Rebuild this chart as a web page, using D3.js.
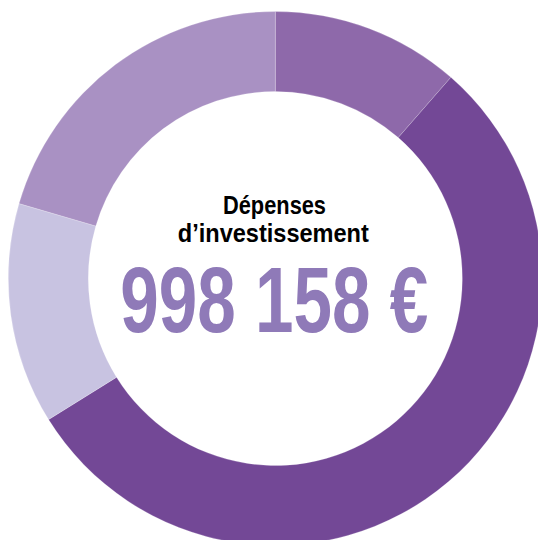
<!DOCTYPE html>
<html>
<head>
<meta charset="utf-8">
<script src="https://cdn.jsdelivr.net/npm/d3@7"></script>
<style>
  html, body { margin: 0; padding: 0; background: #fff; }
  svg { display: block; }
</style>
</head>
<body>
<div class="donut"></div>
<script>
// slices read clockwise from 12 o'clock
var categories = ["Poste 1", "Poste 2", "Poste 3", "Poste 4"];
var values = [114000, 546200, 133600, 204358];
var colors = ["#8e69aa", "#734896", "#c8c3e1", "#a991c3"];
var titleLines = ["Dépenses", "d\u2019investissement"];
var totalLabel = "998 158 €";

var width = 538, height = 540;
var cx = 275.3, cy = 278.5,
    outerRadius = 267,
    innerRadius = 187;

var svg = d3.select(".donut")
  .append("svg")
  .attr("width", width)
  .attr("height", height);

var g = svg.append("g")
  .attr("transform", "translate(" + cx + "," + cy + ")");

var data = categories.map(function(c, i){ return {label: c, value: values[i]}; });

var color = d3.scaleOrdinal().domain(categories).range(colors);

var pie = d3.pie()
  .value(function(d){ return d.value; })
  .sort(null);

var arc = d3.arc()
  .innerRadius(innerRadius)
  .outerRadius(outerRadius);

g.selectAll("path.slice")
  .data(pie(data))
  .enter()
  .append("path")
  .attr("class", "slice")
  .attr("fill", function(d){ return color(d.data.label); })
  .attr("stroke", "#ffffff")
  .attr("stroke-opacity", 0.35)
  .attr("stroke-width", 0.6)
  .attr("d", arc);

// centre text
var font = "'Liberation Sans Narrow', 'Arial Narrow', sans-serif";

g.append("text")
  .attr("x", -0.8)
  .attr("y", 214.3 - cy)
  .attr("text-anchor", "middle")
  .attr("font-family", font)
  .attr("font-weight", "bold")
  .attr("font-size", 25.5)
  .attr("fill", "#000")
  .attr("textLength", 103)
  .attr("lengthAdjust", "spacingAndGlyphs")
  .text(titleLines[0]);

g.append("text")
  .attr("x", -2)
  .attr("y", 241.7 - cy)
  .attr("text-anchor", "middle")
  .attr("font-family", font)
  .attr("font-weight", "bold")
  .attr("font-size", 26.5)
  .attr("fill", "#000")
  .attr("textLength", 191)
  .attr("lengthAdjust", "spacingAndGlyphs")
  .text(titleLines[1]);

g.append("text")
  .attr("x", 274.2 - cx)
  .attr("y", 332.3 - cy)
  .attr("text-anchor", "middle")
  .attr("font-family", font)
  .attr("font-weight", "bold")
  .attr("font-size", 93.5)
  .attr("fill", "#8f7ab8")
  .attr("textLength", 308)
  .attr("lengthAdjust", "spacingAndGlyphs")
  .text(totalLabel);
</script>
</body>
</html>
